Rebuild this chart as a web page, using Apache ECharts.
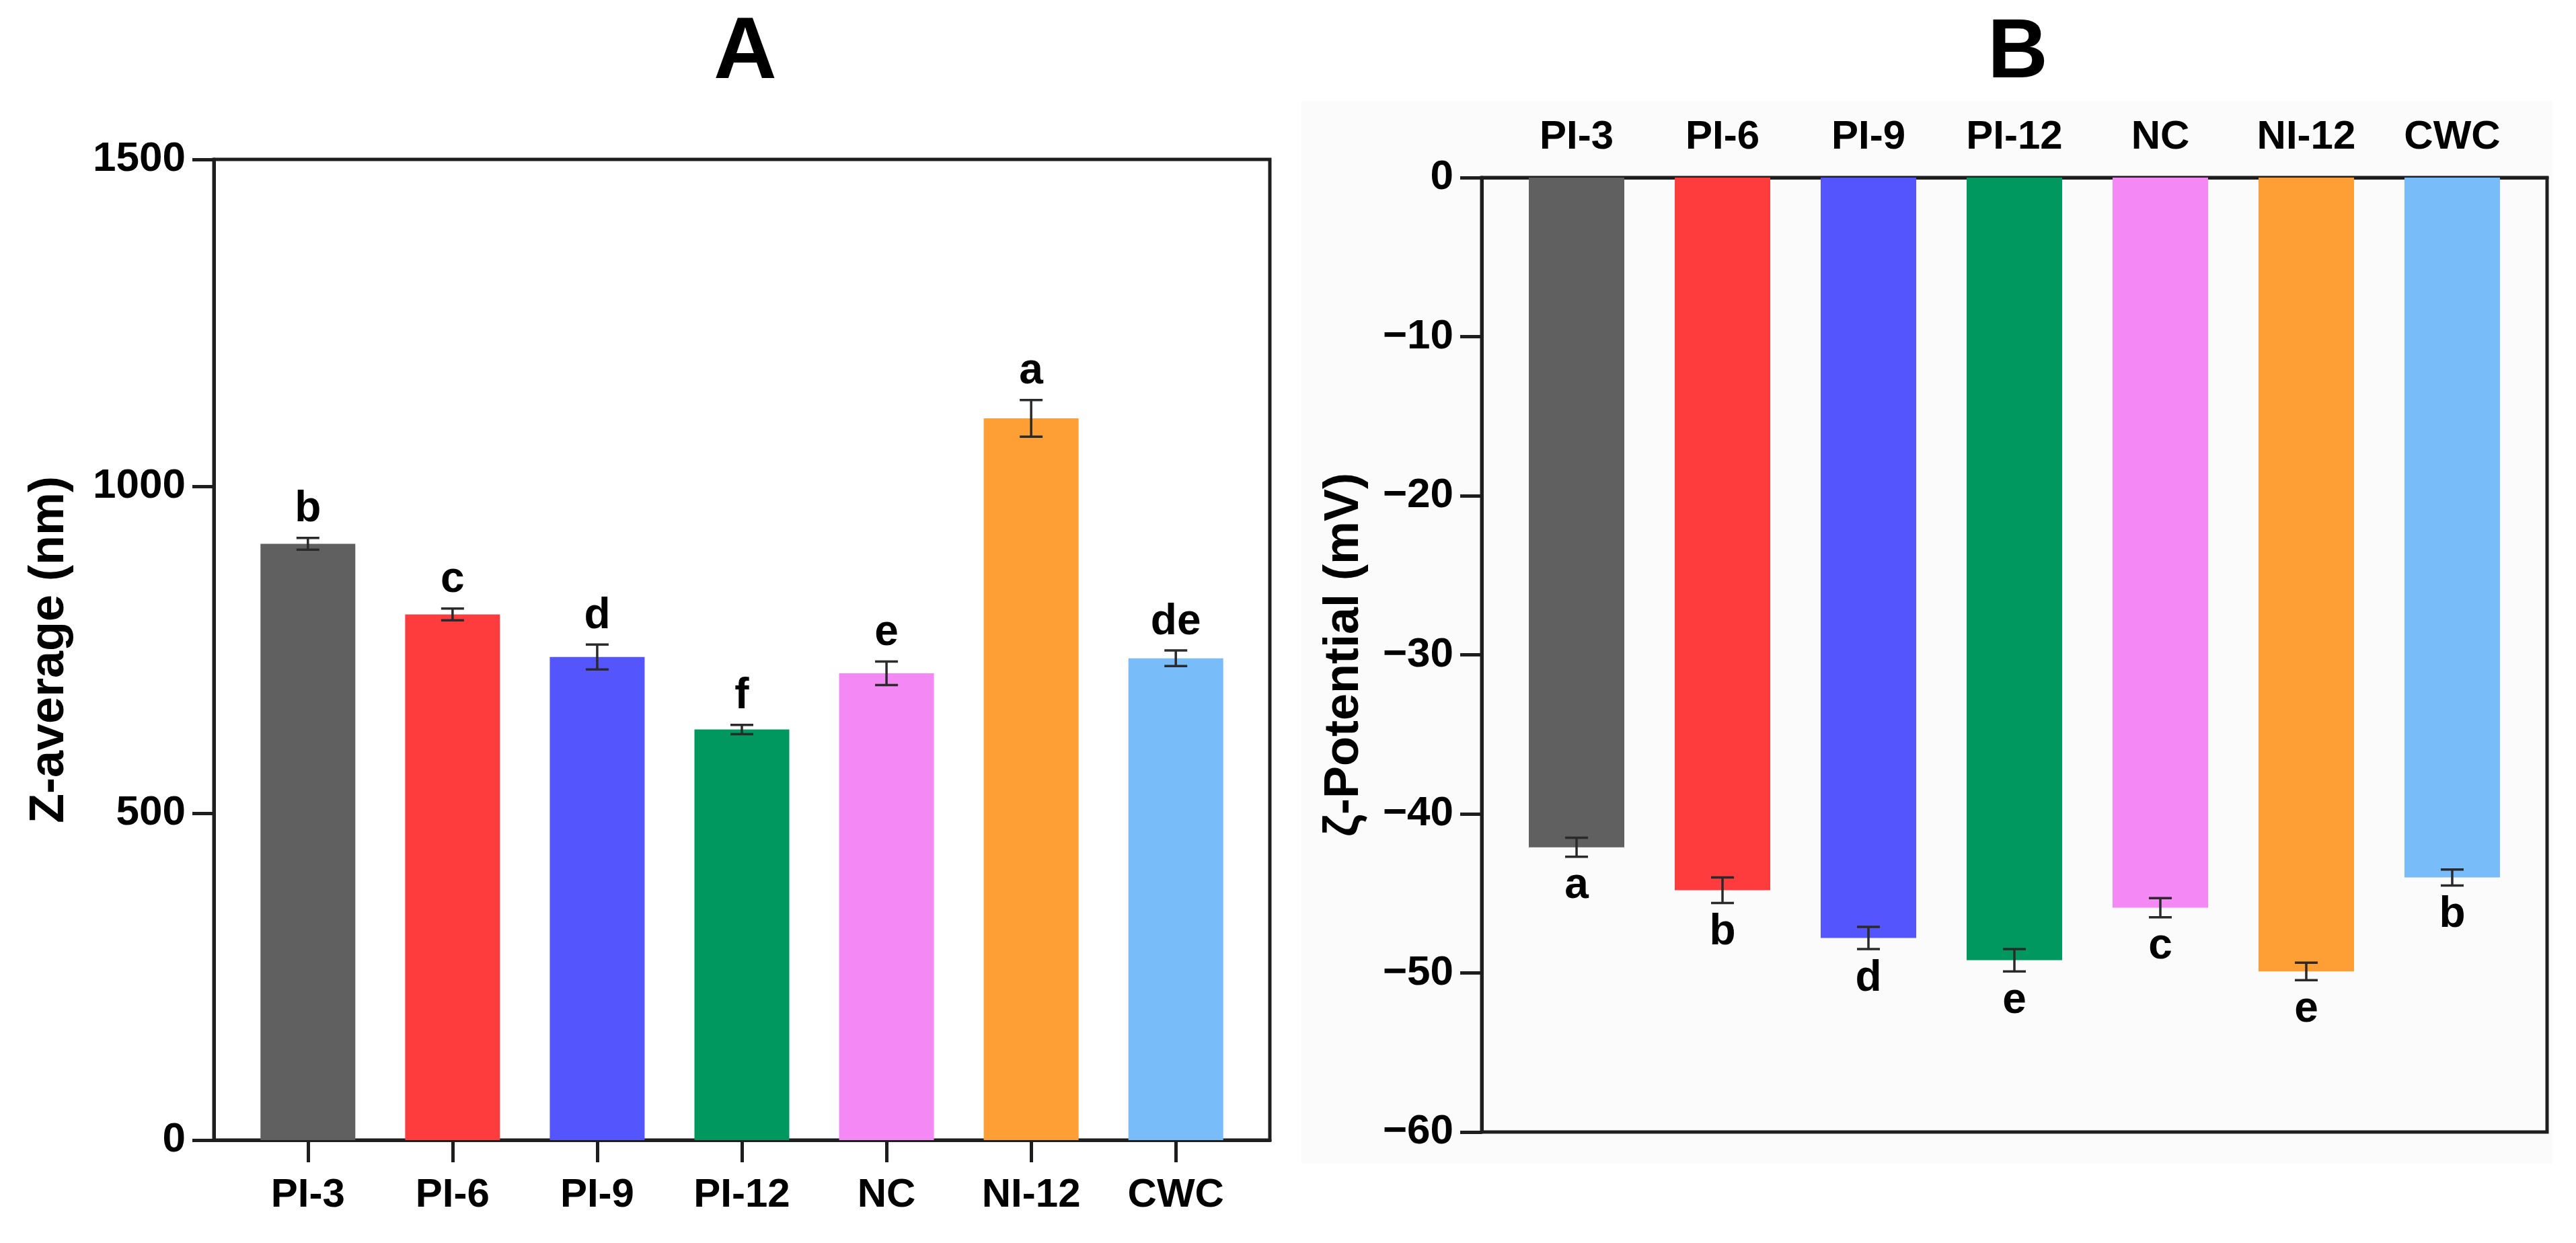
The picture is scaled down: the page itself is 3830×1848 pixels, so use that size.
<!DOCTYPE html>
<html>
<head>
<meta charset="utf-8">
<script src="https://cdn.jsdelivr.net/npm/echarts@6/dist/echarts.min.js"></script>
<style>
  html, body { margin: 0; padding: 0; background: #fff; }
  #chart { width: 3830px; height: 1848px; }
</style>
</head>
<body>
<div id="chart"></div>
<script>
// samples, shared by both panels
const categories = ['PI-3', 'PI-6', 'PI-9', 'PI-12', 'NC', 'NI-12', 'CWC'];
const barColors = ['#606060', '#fe3b3d', '#5555fe', '#00985f', '#f488f5', '#fe9f35', '#78bdf9'];

// A: Z-average (nm)
const zAvg = [912, 804, 739, 628, 714, 1104, 737];
const zAvgErr = [9, 9, 19, 7, 18, 28, 12];
const zAvgLetters = ['b', 'c', 'd', 'f', 'e', 'a', 'de'];
const zAvgTicks = [0, 500, 1000, 1500];

// B: zeta potential (mV)
const zeta = [-42.1, -44.8, -47.8, -49.2, -45.9, -49.9, -44.0];
const zetaErr = [0.6, 0.8, 0.7, 0.7, 0.6, 0.55, 0.5];
const zetaLetters = ['a', 'b', 'd', 'e', 'c', 'e', 'b'];
const zetaTicks = [0, -10, -20, -30, -40, -50, -60];

const FONT = "'Liberation Sans', Arial, sans-serif";
const INK = '#1e1e1e';
const idx = categories.map((c, i) => i);

const chart = echarts.init(document.getElementById('chart'), null, { renderer: 'canvas' });

function xAxisFor(gridIndex, position, tickLen, margin) {
  return {
    gridIndex: gridIndex,
    type: 'value',
    position: position,
    min: -0.65,
    max: 6.65,
    splitLine: { show: false },
    axisLine: { show: true, onZero: false, lineStyle: { color: INK, width: 5 } },
    axisTick: {
      show: tickLen > 0,
      customValues: idx,
      length: tickLen,
      lineStyle: { color: INK, width: 5 }
    },
    axisLabel: {
      customValues: idx,
      margin: margin,
      formatter: function (v) { return categories[Math.round(v)]; },
      color: '#000',
      fontFamily: FONT,
      fontWeight: 'bold',
      fontSize: 60
    }
  };
}

function yAxisFor(gridIndex, ticks, interval, name, nameGap, fmt) {
  return {
    gridIndex: gridIndex,
    type: 'value',
    min: Math.min.apply(null, ticks),
    max: Math.max.apply(null, ticks),
    interval: interval,
    name: name,
    nameLocation: 'middle',
    nameGap: nameGap,
    nameTextStyle: { color: '#000', fontFamily: FONT, fontWeight: 'bold', fontSize: 72 },
    splitLine: { show: false },
    axisLine: { show: true, onZero: false, lineStyle: { color: INK, width: 5 } },
    axisTick: { show: true, length: 32, lineStyle: { color: INK, width: 5 } },
    axisLabel: {
      margin: 42,
      formatter: fmt,
      color: '#000',
      fontFamily: FONT,
      fontWeight: 'bold',
      fontSize: 62
    }
  };
}

// error bars + significance letters, placed with the axis scales
function errorRenderer(letters, letterAbove) {
  return function (params, api) {
    const i = api.value(0);
    const m = api.value(1);
    const s = api.value(2);
    const a = api.coord([i, m + s]);
    const b = api.coord([i, m - s]);
    const x = a[0];
    const yTop = Math.min(a[1], b[1]);
    const yBot = Math.max(a[1], b[1]);
    const half = 17;
    const stroke = { stroke: '#2a2a2a', lineWidth: 3.5 };
    return {
      type: 'group',
      children: [
        { type: 'line', shape: { x1: x, y1: yTop, x2: x, y2: yBot }, style: stroke },
        { type: 'line', shape: { x1: x - half, y1: yTop, x2: x + half, y2: yTop }, style: stroke },
        { type: 'line', shape: { x1: x - half, y1: yBot, x2: x + half, y2: yBot }, style: stroke },
        {
          type: 'text',
          style: {
            text: letters[params.dataIndex],
            x: x,
            y: letterAbove ? yTop - 10 : yBot + 12,
            align: 'center',
            verticalAlign: letterAbove ? 'bottom' : 'top',
            fill: '#000',
            font: 'bold 64px ' + FONT
          }
        }
      ]
    };
  };
}

function barData(vals) {
  return vals.map((v, i) => ({ value: [i, v], itemStyle: { color: barColors[i] } }));
}

const minus = v => (v < 0 ? '\u2212' + Math.abs(v) : String(v));

const option = {
  backgroundColor: '#ffffff',
  animation: false,
  title: [
    {
      text: 'A',
      left: 1103,
      top: 10,
      textAlign: 'center',
      textStyle: { fontFamily: FONT, fontWeight: 'bold', fontSize: 130, color: '#000' }
    },
    {
      text: 'B',
      left: 2995,
      top: 14,
      textAlign: 'center',
      textStyle: { fontFamily: FONT, fontWeight: 'bold', fontSize: 124, color: '#000' }
    }
  ],
  graphic: [
    {
      type: 'rect',
      z: -10,
      silent: true,
      shape: { x: 1935, y: 150, width: 1860, height: 1580 },
      style: { fill: '#fbfbfb' }
    }
  ],
  grid: [
    {
      left: 318, right: 1942, top: 237, bottom: 153,
      show: true, borderColor: INK, borderWidth: 5,
      containLabel: false, outerBoundsMode: 'none'
    },
    {
      left: 2203, right: 43, top: 264, bottom: 165,
      show: true, borderColor: INK, borderWidth: 5,
      containLabel: false, outerBoundsMode: 'none'
    }
  ],
  xAxis: [
    xAxisFor(0, 'bottom', 33, 52),
    xAxisFor(1, 'top', 0, 30)
  ],
  yAxis: [
    yAxisFor(0, zAvgTicks, 500, 'Z-average (nm)', 208, v => String(v)),
    yAxisFor(1, zetaTicks, 10, '\u03B6-Potential (mV)', 168, minus)
  ],
  series: [
    {
      type: 'bar',
      xAxisIndex: 0,
      yAxisIndex: 0,
      barWidth: 141,
      data: barData(zAvg)
    },
    {
      type: 'custom',
      xAxisIndex: 0,
      yAxisIndex: 0,
      clip: false,
      z: 5,
      renderItem: errorRenderer(zAvgLetters, true),
      data: zAvg.map((v, i) => [i, v, zAvgErr[i]])
    },
    {
      type: 'bar',
      xAxisIndex: 1,
      yAxisIndex: 1,
      barWidth: 142,
      data: barData(zeta)
    },
    {
      type: 'custom',
      xAxisIndex: 1,
      yAxisIndex: 1,
      clip: false,
      z: 5,
      renderItem: errorRenderer(zetaLetters, false),
      data: zeta.map((v, i) => [i, v, zetaErr[i]])
    }
  ]
};

chart.setOption(option);
</script>
</body>
</html>
